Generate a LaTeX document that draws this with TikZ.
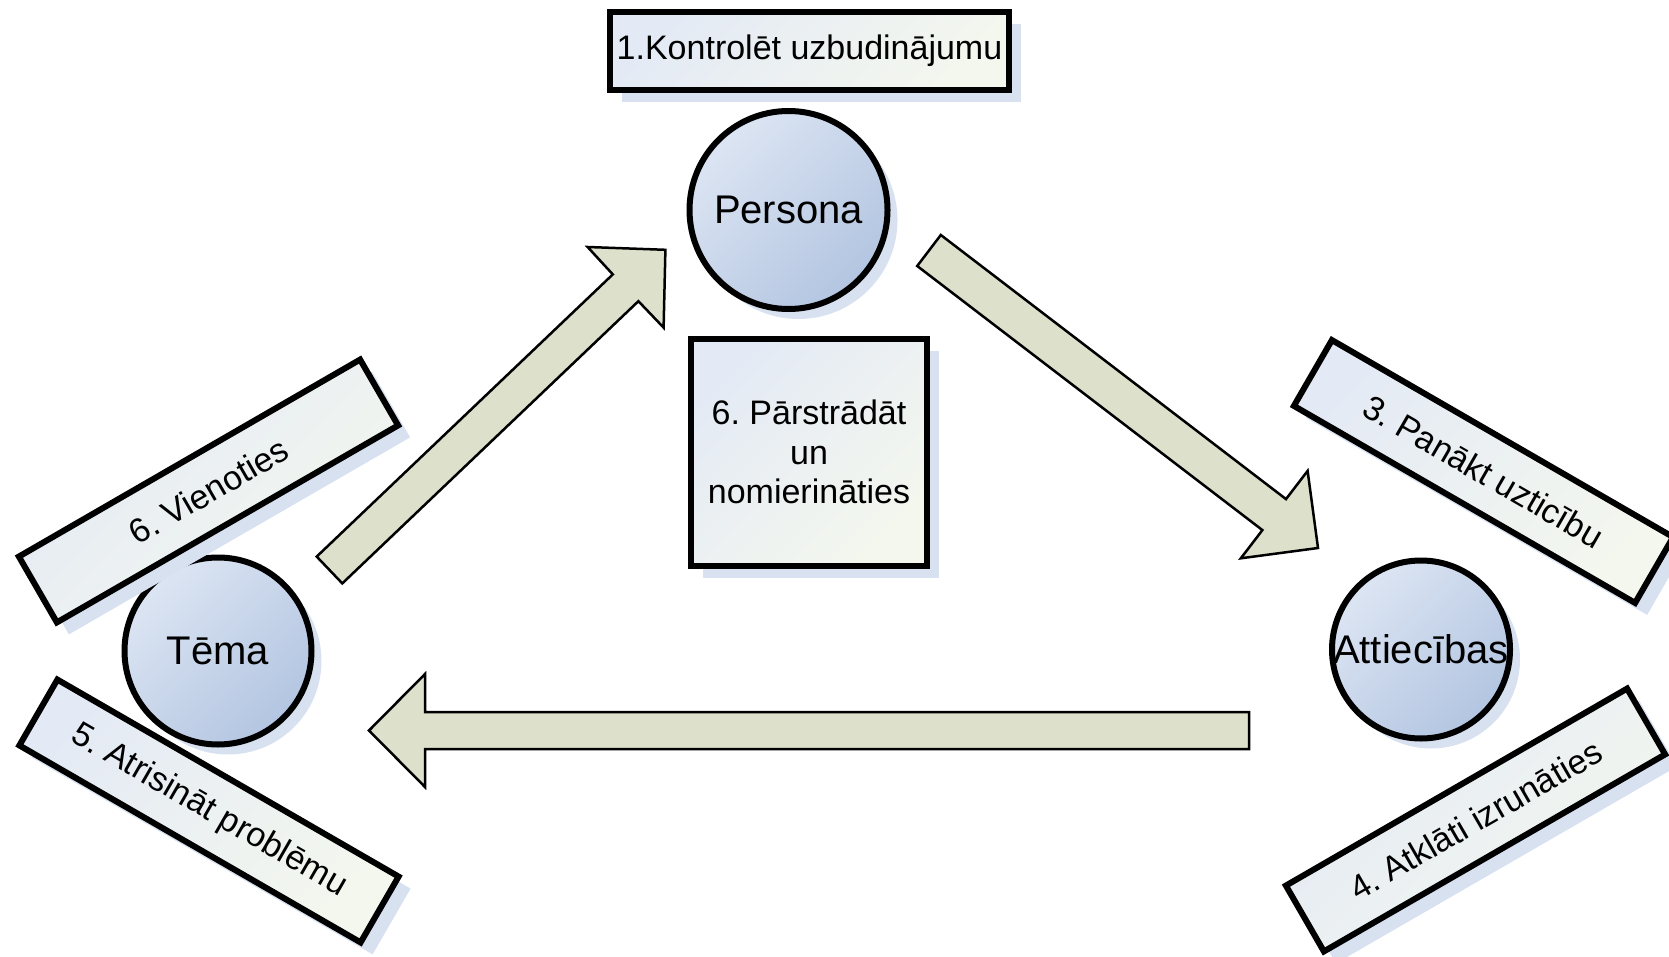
\documentclass[tikz,border=0pt]{standalone}
\usepackage{fontspec}
\setmainfont{Liberation Sans}
\frenchspacing
\definecolor{shadowblue}{HTML}{D8E1F0}
\definecolor{boxA}{HTML}{E4EAF5}
\definecolor{boxB}{HTML}{F4F7EE}
\definecolor{circA}{HTML}{DCE5F3}
\definecolor{circB}{HTML}{B3C5E1}
\definecolor{arrowfill}{HTML}{DDE1CB}
\tikzset{
  shadowed/.style={preaction={fill=shadowblue, transform canvas={xshift=12pt, yshift=-12pt}}},
  cshadowed/.style={preaction={fill=shadowblue, transform canvas={xshift=10pt, yshift=-10pt}}},
  labelbox/.style={shadowed, draw=black, line width=6pt, top color=boxA, bottom color=boxB,
    shading angle=45, inner sep=0pt, align=center, font=\fontsize{34}{39.5}\selectfont},
  slantbox/.style={labelbox, minimum width=394pt, minimum height=76pt},
  topic/.style={cshadowed, circle, draw=black, line width=6pt, top color=circA, bottom color=circB,
    shading angle=45, inner sep=0pt},
  topictext/.style={font=\fontsize{40}{48}\selectfont},
  blockarrow/.style={draw=black, line width=2.5pt, fill=arrowfill, line join=miter},
}
\begin{document}
\begin{tikzpicture}[x=1pt, y=-1pt]
\useasboundingbox (0,0) rectangle (1669,957);

% circles
\node[topic, minimum size=198pt, label={[topictext]center:Persona}] (persona) at (788.5,210) {};
\node[topic, minimum size=187pt, label={[topictext]center:Tēma}] (tema) at (218,651) {};
\node[topic, minimum size=178pt, label={[topictext]center:Attiecības}] (att) at (1421,649.5) {};

% straight boxes
\node[labelbox, minimum width=399pt, minimum height=78pt] (kontrol) at (809.5,51) {1.Kontrolēt uzbudinājumu};
\node[labelbox, minimum width=236pt, minimum height=227pt] (parstr) at (809,452) {6. Pārstrādāt\\un\\nomierināties};

% slanted boxes
\node[slantbox, rotate=30] (vieno) at (208.5,491) {6. Vienoties};
\node[slantbox, rotate=-30] (atris) at (209,811) {5. Atrisināt problēmu};
\node[slantbox, rotate=-30] (panakt) at (1483.5,471.5) {3. Panākt uzticību};
\node[slantbox, rotate=30] (atklati) at (1475.5,820) {4. Atklāti izrunāties};

% block arrows
\draw[blockarrow] (316.7,556.6) -- (612.8,274.4) -- (587.6,247.0) -- (665.4,249.8)
  -- (663.6,327.6) -- (638.4,301.2) -- (342.3,583.4) -- cycle;
\draw[blockarrow] (940.8,235.0) -- (1286.0,499.1) -- (1307.6,470.9) -- (1318,548)
  -- (1240.8,558.3) -- (1262.4,530.1) -- (917.2,266.0) -- cycle;
\draw[blockarrow] (1249,712) -- (425,712) -- (425,674) -- (369,730.5)
  -- (425,787) -- (425,749) -- (1249,749) -- cycle;
\end{tikzpicture}
\end{document}
